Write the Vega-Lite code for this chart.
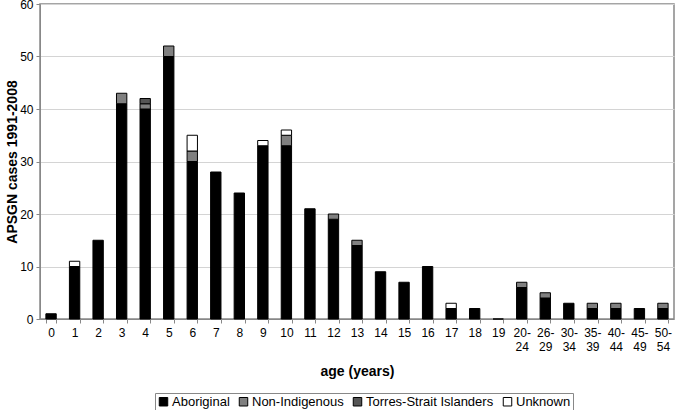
{
  "$schema": "https://vega.github.io/schema/vega-lite/v6.json",
  "autosize": {"type": "none"},
  "padding": {"left": 40, "top": 4, "right": 1, "bottom": 91},
  "width": 634,
  "height": 315,
  "config": {
    "font": "Liberation Sans",
    "view": {"stroke": "#888", "strokeWidth": 1.5}
  },
  "data": {
    "values": [
      {"age": "0", "group": "Aboriginal", "n": 1},
      {"age": "1", "group": "Aboriginal", "n": 10},
      {"age": "1", "group": "Unknown", "n": 1},
      {"age": "2", "group": "Aboriginal", "n": 15},
      {"age": "3", "group": "Aboriginal", "n": 41},
      {"age": "3", "group": "Non-Indigenous", "n": 2},
      {"age": "4", "group": "Aboriginal", "n": 40},
      {"age": "4", "group": "Non-Indigenous", "n": 1},
      {"age": "4", "group": "Torres-Strait Islanders", "n": 1},
      {"age": "5", "group": "Aboriginal", "n": 50},
      {"age": "5", "group": "Non-Indigenous", "n": 2},
      {"age": "6", "group": "Aboriginal", "n": 30},
      {"age": "6", "group": "Non-Indigenous", "n": 2},
      {"age": "6", "group": "Unknown", "n": 3},
      {"age": "7", "group": "Aboriginal", "n": 28},
      {"age": "8", "group": "Aboriginal", "n": 24},
      {"age": "9", "group": "Aboriginal", "n": 33},
      {"age": "9", "group": "Unknown", "n": 1},
      {"age": "10", "group": "Aboriginal", "n": 33},
      {"age": "10", "group": "Non-Indigenous", "n": 2},
      {"age": "10", "group": "Unknown", "n": 1},
      {"age": "11", "group": "Aboriginal", "n": 21},
      {"age": "12", "group": "Aboriginal", "n": 19},
      {"age": "12", "group": "Non-Indigenous", "n": 1},
      {"age": "13", "group": "Aboriginal", "n": 14},
      {"age": "13", "group": "Non-Indigenous", "n": 1},
      {"age": "14", "group": "Aboriginal", "n": 9},
      {"age": "15", "group": "Aboriginal", "n": 7},
      {"age": "16", "group": "Aboriginal", "n": 10},
      {"age": "17", "group": "Aboriginal", "n": 2},
      {"age": "17", "group": "Unknown", "n": 1},
      {"age": "18", "group": "Aboriginal", "n": 2},
      {"age": "19", "group": "Aboriginal", "n": 0},
      {"age": "20-24", "group": "Aboriginal", "n": 6},
      {"age": "20-24", "group": "Non-Indigenous", "n": 1},
      {"age": "26-29", "group": "Aboriginal", "n": 4},
      {"age": "26-29", "group": "Non-Indigenous", "n": 1},
      {"age": "30-34", "group": "Aboriginal", "n": 3},
      {"age": "35-39", "group": "Aboriginal", "n": 2},
      {"age": "35-39", "group": "Non-Indigenous", "n": 1},
      {"age": "40-44", "group": "Aboriginal", "n": 2},
      {"age": "40-44", "group": "Non-Indigenous", "n": 1},
      {"age": "45-49", "group": "Aboriginal", "n": 2},
      {"age": "50-54", "group": "Aboriginal", "n": 2},
      {"age": "50-54", "group": "Non-Indigenous", "n": 1}
    ]
  },
  "mark": {"type": "bar", "stroke": "black", "strokeWidth": 1},
  "encoding": {
    "x": {
      "field": "age",
      "type": "ordinal",
      "sort": ["0","1","2","3","4","5","6","7","8","9","10","11","12","13","14","15","16","17","18","19","20-24","26-29","30-34","35-39","40-44","45-49","50-54"],
      "scale": {"paddingInner": 0.56, "paddingOuter": 0.25},
      "axis": {
        "title": "age (years)",
        "titleFontSize": 14,
        "titleFontWeight": "bold",
        "titlePadding": 12,
        "labelAngle": 0,
        "labelFontSize": 12,
        "labelColor": "black",
        "labelPadding": 4,
        "labelLineHeight": 14,
        "labelExpr": "indexof(datum.label + '', '-') > 0 ? [split(datum.label + '', '-')[0] + '-', split(datum.label + '', '-')[1]] : datum.label",
        "tickBand": "extent",
        "tickSize": 4,
        "tickColor": "#888",
        "domainColor": "#888"
      }
    },
    "y": {
      "field": "n",
      "type": "quantitative",
      "stack": "zero",
      "scale": {"domain": [0, 60]},
      "axis": {
        "title": "APSGN cases 1991-2008",
        "titleFontSize": 14,
        "titleFontWeight": "bold",
        "titlePadding": 0,
        "values": [0, 10, 20, 30, 40, 50, 60],
        "labelFontSize": 12,
        "labelColor": "black",
        "labelPadding": 3,
        "tickSize": 4,
        "tickColor": "#888",
        "domainColor": "#888",
        "gridColor": "#d4d4d4"
      }
    },
    "order": {"field": "group", "sort": "ascending"},
    "color": {
      "field": "group",
      "type": "nominal",
      "scale": {
        "domain": ["Aboriginal", "Non-Indigenous", "Torres-Strait Islanders", "Unknown"],
        "range": ["#000000", "#808080", "#555555", "#ffffff"]
      },
      "legend": {
        "title": null,
        "orient": "none",
        "legendX": 115,
        "legendY": 389,
        "direction": "horizontal",
        "symbolType": "square",
        "symbolSize": 72,
        "symbolStrokeColor": "black",
        "symbolStrokeWidth": 1,
        "labelFontSize": 13,
        "labelColor": "black",
        "labelOffset": 2,
        "columnPadding": 7,
        "padding": 2,
        "strokeColor": "#888"
      }
    }
  }
}
